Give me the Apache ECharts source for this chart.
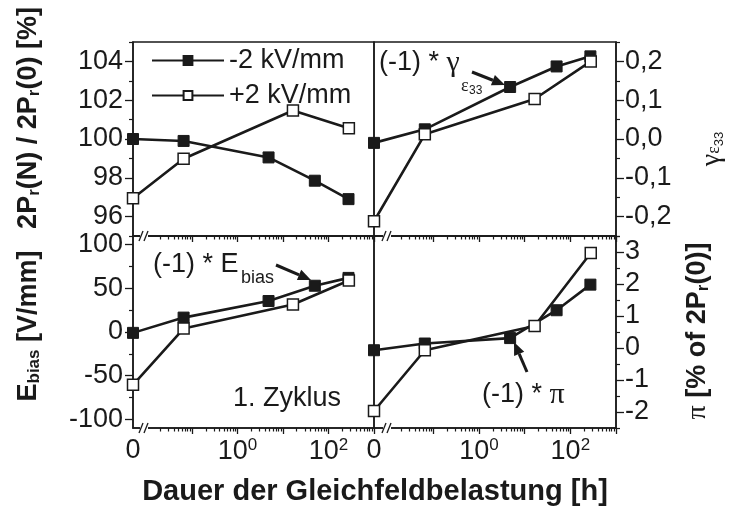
<!DOCTYPE html>
<html><head><meta charset="utf-8">
<script src="https://cdn.jsdelivr.net/npm/echarts@6/dist/echarts.min.js"></script>
<style>html,body{margin:0;padding:0;background:#fff}#c{width:730px;height:512px}</style>
</head><body><div id="c"></div>
<script>
// ---------- data ----------
const hoursNeg = [0, 0.065, 4.8, 50, 275];      // -2 kV/mm
const hoursPos = [0, 0.065, 16.5, 280];         // +2 kV/mm
const prNeg    = [100.0, 99.9, 99.05, 97.85, 96.9];
const prPos    = [96.95, 98.98, 101.47, 100.56];
const gammaNeg = [-0.01, 0.025, 0.134, 0.187, 0.213];
const gammaPos = [-0.212, 0.012, 0.103, 0.20];
const ebiasNeg = [-1, 16.5, 35.5, 53, 62];
const ebiasPos = [-60.5, 4, 31.5, 59];
const piNeg    = [-0.07, 0.14, 0.31, 1.18, 1.98];
const piPos    = [-1.97, -0.07, 0.69, 2.97];
const seriesNames = ['-2 kV/mm', '+2 kV/mm'];
const xMajorTicks = [0.1, 1, 10, 100, 1000];
const xLabelValues = [0, 1, 100];
const prTicks = [96, 98, 100, 102, 104];
const prMinor = [95, 97, 99, 101, 103, 105];
const gammaTicks = [-0.2, -0.1, 0, 0.1, 0.2];
const gammaMinor = [-0.25, -0.15, -0.05, 0.05, 0.15, 0.25];
const ebiasTicks = [-100, -50, 0, 50, 100];
const ebiasMinor = [-75, -25, 25, 75];
const piTicks = [-2, -1, 0, 1, 2, 3];
const piMinor = [-2.5, -1.5, -0.5, 0.5, 1.5, 2.5, 3.5];

// ---------- helpers ----------
const INK = '#1a1a1a';
const SANS = 'Liberation Sans, Arial, sans-serif';
const SERIF = 'Liberation Serif, Times New Roman, serif';
const FS = 27;
const ZERO_POS = -2.3, X_MIN = -2.3, X_MAX = 3;
function xPos(t) { return t === 0 ? ZERO_POS : Math.log10(t); }
const xMinorTicks = [];
for (let d = -2; d <= 2; d++) for (let k = 2; k <= 9; k++) xMinorTicks.push(Math.log10(k * Math.pow(10, d)));

const grids = [
  { left: 133, top: 42, width: 241, height: 194 },
  { left: 374, top: 42, width: 242, height: 194 },
  { left: 133, top: 236, width: 241, height: 192 },
  { left: 374, top: 236, width: 242, height: 192 }
].map(g => Object.assign(g, { show: true, borderColor: INK, borderWidth: 1.5, backgroundColor: 'transparent', containLabel: false }));

const xAxis = [], yAxis = [];
function addX(gi, showLabels) {
  xAxis.push({
    type: 'value', gridIndex: gi, min: X_MIN, max: X_MAX, position: 'bottom',
    axisLine: { show: true, onZero: false, lineStyle: { color: INK, width: 1.5 } },
    axisTick: { show: true, length: 6, customValues: xMajorTicks.map(Math.log10), lineStyle: { color: INK, width: 1.3 } },
    axisLabel: {
      show: showLabels, margin: 9, customValues: xLabelValues.map(xPos),
      formatter: v => Math.abs(v - ZERO_POS) < 1e-6 ? '{b|0}' : '{b|10}{s|' + Math.round(v) + '}',
      rich: { b: { fontSize: FS, fontFamily: SANS, color: INK }, s: { fontSize: 17, fontFamily: SANS, color: INK, verticalAlign: 'top', padding: [0, 0, 12, 0] } }
    },
    splitLine: { show: false }
  });
  xAxis.push({
    type: 'value', gridIndex: gi, min: X_MIN, max: X_MAX, position: 'bottom',
    axisLine: { show: false, onZero: false },
    axisTick: { show: true, length: 3.5, customValues: xMinorTicks, lineStyle: { color: INK, width: 1.2 } },
    axisLabel: { show: false }, splitLine: { show: false }
  });
}
function addY(gi, pos, min, max, majors, minors, fmt, margin) {
  yAxis.push({
    type: 'value', gridIndex: gi, min: min, max: max, position: pos,
    axisLine: { show: true, onZero: false, lineStyle: { color: INK, width: 1.5 } },
    axisTick: { show: true, length: 8, customValues: majors, lineStyle: { color: INK, width: 1.3 } },
    axisLabel: { show: true, margin: margin, customValues: majors, formatter: fmt, fontSize: FS, fontFamily: SANS, color: INK },
    splitLine: { show: false }
  });
  yAxis.push({
    type: 'value', gridIndex: gi, min: min, max: max, position: pos,
    axisLine: { show: false, onZero: false },
    axisTick: { show: true, length: 4, customValues: minors, lineStyle: { color: INK, width: 1.2 } },
    axisLabel: { show: false }, splitLine: { show: false }
  });
}
addX(0, false); addX(1, false); addX(2, true); addX(3, true);
addY(0, 'left', 95, 105, prTicks, prMinor, v => String(v), 10);
addY(1, 'right', -0.25, 0.25, gammaTicks, gammaMinor, v => v.toFixed(1).replace('.', ','), 9);
addY(2, 'left', -110, 110, ebiasTicks, ebiasMinor, v => String(v), 10);
addY(3, 'right', -2.5, 3.5, piTicks, piMinor, v => String(v), 9);

function mk(name, hours, vals, gi, filled) {
  return {
    type: 'line', name: name, xAxisIndex: 2 * gi, yAxisIndex: 2 * gi,
    data: hours.map((t, i) => [xPos(t), vals[i]]),
    symbol: 'rect', symbolSize: 11, showSymbol: true,
    lineStyle: { color: INK, width: 2.6 },
    itemStyle: filled ? { color: INK, borderColor: INK, borderWidth: 1 } : { color: '#fff', borderColor: INK, borderWidth: 1.5 },
    emphasis: { disabled: true }, z: filled ? 3 : 4
  };
}
const series = [
  mk(seriesNames[0], hoursNeg, prNeg, 0, true), mk(seriesNames[1], hoursPos, prPos, 0, false),
  mk(seriesNames[0], hoursNeg, gammaNeg, 1, true), mk(seriesNames[1], hoursPos, gammaPos, 1, false),
  mk(seriesNames[0], hoursNeg, ebiasNeg, 2, true), mk(seriesNames[1], hoursPos, ebiasPos, 2, false),
  mk(seriesNames[0], hoursNeg, piNeg, 3, true), mk(seriesNames[1], hoursPos, piPos, 3, false)
];

// ---------- decorations ----------
const graphic = [];
function breakMark(x, y) {
  graphic.push({ type: 'rect', shape: { x: x - 4, y: y - 2, width: 8, height: 4 }, style: { fill: '#fff' }, z: 50 });
  graphic.push({ type: 'line', shape: { x1: x - 5, y1: y + 5, x2: x - 1, y2: y - 5 }, style: { stroke: INK, lineWidth: 1.3 }, z: 51 });
  graphic.push({ type: 'line', shape: { x1: x, y1: y + 5, x2: x + 4, y2: y - 5 }, style: { stroke: INK, lineWidth: 1.3 }, z: 51 });
}
[[144, 236], [144, 428], [387, 236], [387, 428]].forEach(p => breakMark(p[0], p[1]));

function arrow(x1, y1, x2, y2) {
  const a = Math.atan2(y2 - y1, x2 - x1), L = 13, W = 5.5;
  const bx = x2 - L * Math.cos(a), by = y2 - L * Math.sin(a);
  graphic.push({ type: 'line', shape: { x1: x1, y1: y1, x2: bx, y2: by }, style: { stroke: INK, lineWidth: 3 }, z: 40 });
  graphic.push({ type: 'polygon', shape: { points: [[x2, y2], [bx - W * Math.sin(a), by + W * Math.cos(a)], [bx + W * Math.sin(a), by - W * Math.cos(a)]] }, style: { fill: INK }, z: 40 });
}
arrow(472, 72, 505, 85);
arrow(276, 265, 311, 280);
arrow(527, 372, 514, 342);

function txt(x, y, text, rich, rot, align) {
  graphic.push({
    type: 'text', x: x, y: y, rotation: rot || 0, z: 30,
    style: { text: text, rich: rich, align: align || 'center', verticalAlign: 'middle', fill: INK, font: FS + 'px ' + SANS }
  });
}
const richN = {
  n: { fontSize: FS, fontFamily: SANS, fill: INK },
  g: { fontSize: 30, fontFamily: SERIF, fill: INK },
  s: { fontSize: 18, fontFamily: SANS, fill: INK },
  e: { fontSize: 18, fontFamily: SERIF, fill: INK },
  ee: { fontSize: 12, fontFamily: SANS, fill: INK }
};
const richB = {
  b: { fontSize: 27, fontFamily: SANS, fontWeight: 'bold', fill: INK },
  bs: { fontSize: 17, fontFamily: SANS, fontWeight: 'bold', fill: INK, verticalAlign: 'bottom' },
  g: { fontSize: 28, fontFamily: SERIF, fill: INK },
  e: { fontSize: 18, fontFamily: SERIF, fill: INK, verticalAlign: 'bottom', padding: [0, 0, 3, 0] },
  ee: { fontSize: 13, fontFamily: SANS, fill: INK, verticalAlign: 'bottom' }
};
// annotations
txt(379, 63, '{n|(-1) * }{g|γ}', richN, 0, 'left');
txt(461, 86, '{e|ε}', richN, 0, 'left');
txt(469, 91, '{ee|33}', richN, 0, 'left');
txt(153, 265, '{n|(-1) * E}', richN, 0, 'left');
txt(241, 278, '{s|bias}', richN, 0, 'left');
txt(233, 399, '{n|1. Zyklus}', richN, 0, 'left');
txt(482, 395, '{n|(-1) * }{g|π}', richN, 0, 'left');
// axis titles
txt(29, 118, '{b|2P}{bs|r}{b|(N) / 2P}{bs|r}{b|(0) [%]}', richB, Math.PI / 2);
txt(29, 326, '{b|E}{bs|bias}{b| [V/mm]}', richB, Math.PI / 2);
txt(712, 149, '{g|γ}{e|ε}{ee|33}', richB, Math.PI / 2);
txt(698, 331, '{g|π}{b| [% of 2P}{bs|r}{b|(0)]}', richB, Math.PI / 2);
txt(375, 492, '{b|Dauer der Gleichfeldbelastung [h]}', { b: { fontSize: 29, fontFamily: SANS, fontWeight: 'bold', fill: INK } }, 0);

const chart = echarts.init(document.getElementById('c'), null, { renderer: 'canvas' });
chart.setOption({
  animation: false,
  backgroundColor: '#fff',
  grid: grids, xAxis: xAxis, yAxis: yAxis, series: series,
  legend: {
    data: seriesNames, left: 146, top: 42, orient: 'vertical', itemWidth: 72, itemHeight: 11, itemGap: 8,
    textStyle: { fontSize: FS, fontFamily: SANS, color: INK }, selectedMode: false
  },
  graphic: graphic
});
</script></body></html>
